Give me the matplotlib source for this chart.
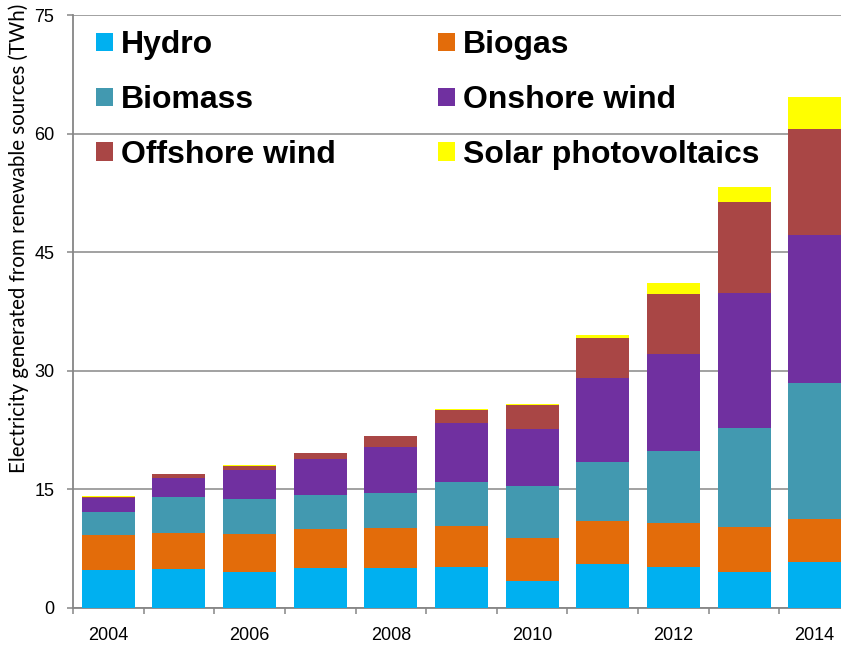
import matplotlib.pyplot as plt
import numpy as np

plt.rcParams['font.family'] = ['Liberation Sans', 'DejaVu Sans']

years = [2004, 2005, 2006, 2007, 2008, 2009, 2010, 2011, 2012, 2013, 2014]
hydro = [4.8, 4.9, 4.6, 5.0, 5.0, 5.2, 3.4, 5.6, 5.2, 4.6, 5.8]
biogas = [4.4, 4.6, 4.7, 5.0, 5.1, 5.2, 5.4, 5.4, 5.5, 5.6, 5.4]
biomass = [3.0, 4.5, 4.5, 4.3, 4.5, 5.5, 6.6, 7.5, 9.1, 12.6, 17.3]
onshore = [1.7, 2.5, 3.6, 4.5, 5.8, 7.5, 7.2, 10.6, 12.3, 17.0, 18.7]
offshore = [0.2, 0.4, 0.6, 0.8, 1.3, 1.7, 3.1, 5.1, 7.6, 11.5, 13.4]
solar = [0.05, 0.05, 0.05, 0.05, 0.05, 0.1, 0.1, 0.3, 1.4, 2.0, 4.0]

series = [
    ('Hydro', hydro, '#00B0F0'),
    ('Biogas', biogas, '#E36C0A'),
    ('Biomass', biomass, '#4299B0'),
    ('Onshore wind', onshore, '#7030A0'),
    ('Offshore wind', offshore, '#A94645'),
    ('Solar photovoltaics', solar, '#FFFF00'),
]

fig = plt.figure(figsize=(8.41, 6.45), dpi=100)
ax = fig.add_axes([73 / 841, 1 - 608 / 645, 777 / 841, (608 - 15) / 645])

x = np.arange(len(years))
bottom = np.zeros(len(years))
handles = {}
for name, vals, col in series:
    b = ax.bar(x, vals, width=0.75, bottom=bottom, color=col,
               edgecolor='none', label=name, zorder=3)
    handles[name] = b
    bottom += np.array(vals)

ax.set_xlim(-0.5, len(years) - 0.5)
ax.set_ylim(0, 75)
ax.set_yticks([0, 15, 30, 45, 60, 75])
ax.yaxis.grid(True, color='#888888', linewidth=1.1, zorder=0)
ax.set_axisbelow(True)

grey = '#868686'
for s in ['top', 'right']:
    ax.spines[s].set_visible(False)
for s in ['left', 'bottom']:
    ax.spines[s].set_color(grey)
    ax.spines[s].set_linewidth(1.3)

ax.tick_params(axis='y', direction='out', length=4.5, width=1.1, color=grey,
               labelsize=13, pad=9)

# category boundaries as tick marks, even years as labels
ax.set_xticks(np.arange(-0.5, len(years), 1.0))
ax.set_xticklabels([])
ax.set_xticks(x[::2], minor=True)
ax.set_xticklabels([str(y) for y in years[::2]], minor=True)
ax.tick_params(axis='x', which='major', direction='out', length=4.5,
               width=1.1, color=grey)
ax.tick_params(axis='x', which='minor', length=0, labelsize=13, pad=14)

ax.set_ylabel('Electricity generated from renewable sources (TWh)',
              fontsize=14.8, family=['Lato', 'DejaVu Sans'])
ax.yaxis.set_label_coords(-0.056, 0.624)

order = ['Hydro', 'Biomass', 'Offshore wind', 'Biogas', 'Onshore wind',
         'Solar photovoltaics']
leg = ax.legend([handles[n] for n in order], order, ncol=2, frameon=False,
                loc='upper left', bbox_to_anchor=(90 / 841, 1 - 24 / 645),
                bbox_transform=fig.transFigure,
                prop={'weight': 'bold', 'size': 23},
                handlelength=0.53, handleheight=0.53, handletextpad=0.24,
                columnspacing=3.2, labelspacing=0.78, borderaxespad=0,
                borderpad=0.2)

plt.savefig('out.png', dpi=100, facecolor='white')
